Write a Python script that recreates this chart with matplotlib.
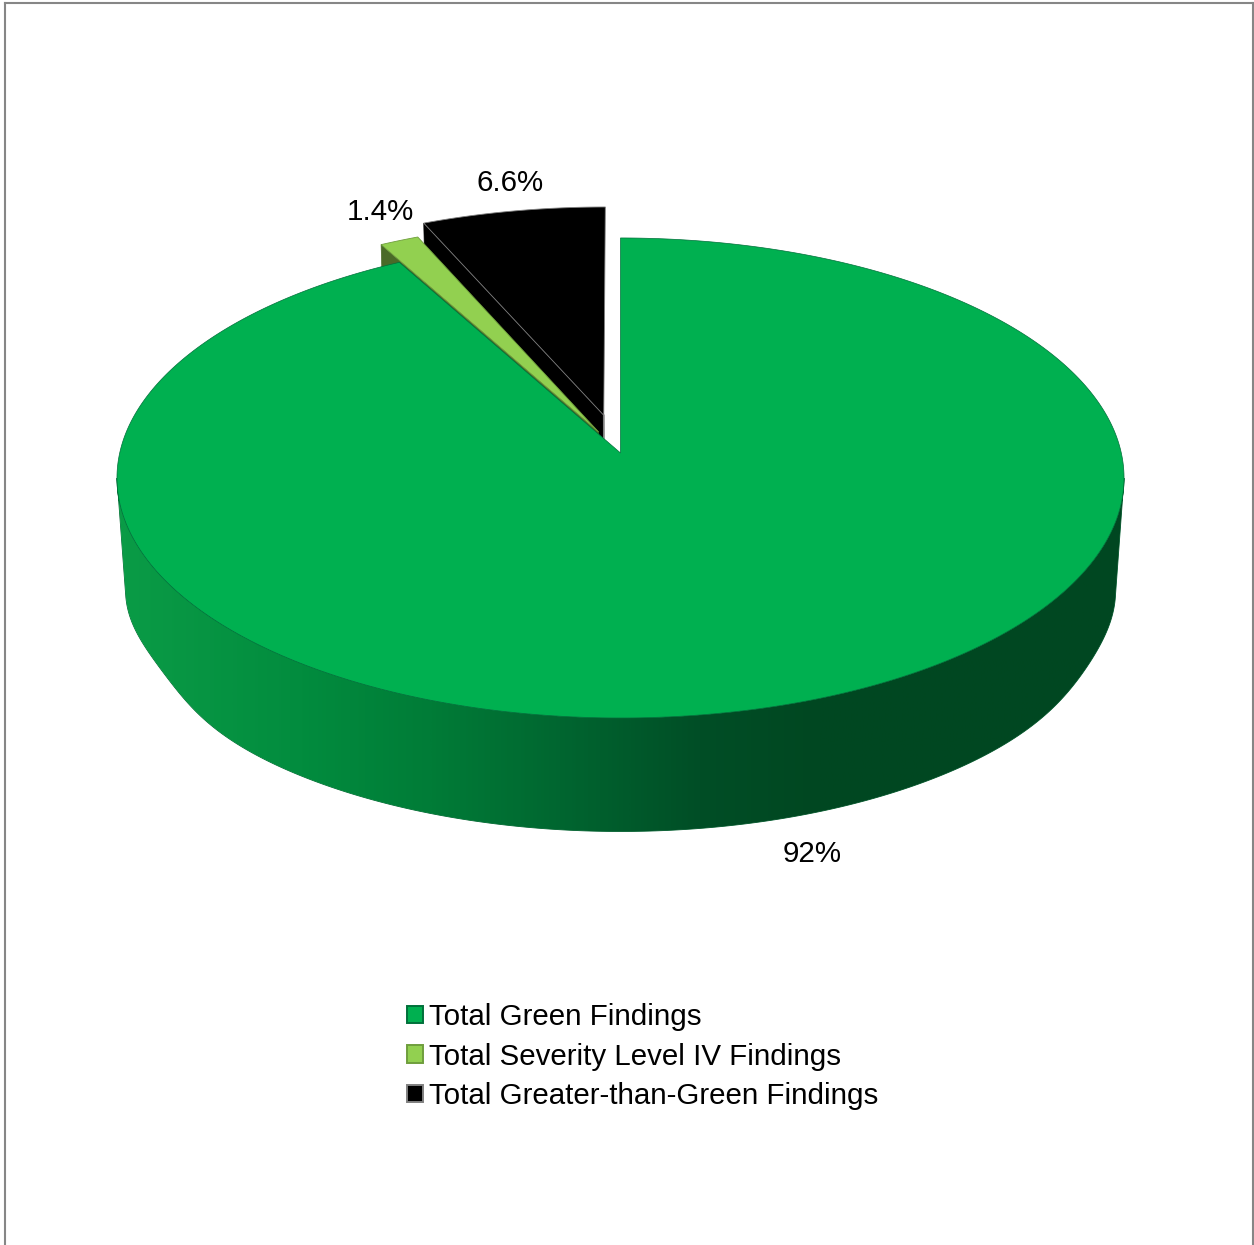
import numpy as np
import matplotlib
matplotlib.use("Agg")
import matplotlib.pyplot as plt
from matplotlib.colors import LinearSegmentedColormap
from matplotlib.patches import Polygon, Patch

# ---- data ----
categories = ["Total Green Findings", "Total Severity Level IV Findings", "Total Greater-than-Green Findings"]
values = [92.0, 1.4, 6.6]
value_labels = ["92%", "1.4%", "6.6%"]
explode = [0.0, 0.10, 0.165]

# ---- style ----
face_colors = ["#00B050", "#92D050", "#000000"]
edge_colors = ["#00703A", "#6F9E3D", "#808080"]
wall_colors = ["#00803A", "#4A6A28", "#000000"]
wall_stops = [(110, "#0A9B46"), (125, "#0A9B46"), (300, "#028C3E"), (430, "#007C37"), (560, "#006630"),
              (700, "#014E26"), (820, "#004721"), (1130, "#004821")]
frame_color = "#868686"
W, H = 1254, 1245
plt.rcParams["font.family"] = ["Liberation Sans", "DejaVu Sans"]
FS = 21.25

# perspective view of the disc
CX, CY, A, B, K = 620.5, 453.0, 500.8, 237.4, 0.104
DEPTH_CY, DEPTH_SCALE = 570.5, 0.985


def project(u, v, bottom=False):
    """u to the right, v toward the viewer, unit disc -> pixels."""
    w = 1 - K * v
    if bottom:
        return CX + DEPTH_SCALE * A * u / w, DEPTH_CY + DEPTH_SCALE * B * v / w
    return CX + A * u / w, CY + B * v / w


def rim(t, ox=0.0, oy=0.0, bottom=False, r=1.0):
    # t is the clockwise angle from 12 o'clock, radians
    return project(r * np.sin(t) + ox, -r * np.cos(t) + oy, bottom)


def rim_flattening(deg):
    # the lower rim of the reference is slightly flattened near both sides
    return 0.011 * np.exp(-((deg - 113) / 13) ** 2) + 0.02 * np.exp(-((deg - 245) / 13) ** 2)


fig = plt.figure(figsize=(W / 100, H / 100), dpi=100)
ax = fig.add_axes([5 / W, 0, (1253 - 5) / W, (H - 3) / H])
ax.set_xticks([])
ax.set_yticks([])
ax.spines["bottom"].set_visible(False)
for s in ("left", "top", "right"):
    ax.spines[s].set_color(frame_color)
    ax.spines[s].set_linewidth(1.5)

fractions = np.array(values) / sum(values)
starts = np.concatenate([[0], np.cumsum(fractions)[:-1]]) * 2 * np.pi
ends = np.cumsum(fractions) * 2 * np.pi
mids = (starts + ends) / 2

# exploded slices, painted back to front
for i in (2, 1):
    ox, oy = explode[i] * np.sin(mids[i]), -explode[i] * np.cos(mids[i])
    ts = np.linspace(starts[i], ends[i], 60)
    tx, ty = rim(ts, ox, oy)
    apex = project(ox, oy)
    apex_b = project(ox, oy, True)
    sx, sy = rim(starts[i], ox, oy)
    bx, by = rim(starts[i], ox, oy, True)
    ax.add_patch(Polygon([(sx, sy), apex, apex_b, (bx, by)], closed=True, fc=wall_colors[i],
                         ec=wall_colors[i], lw=0.5, zorder=2))
    ax.add_patch(Polygon(np.c_[np.r_[apex[0], tx], np.r_[apex[1], ty]], closed=True,
                         fc=face_colors[i], ec=edge_colors[i], lw=0.6, zorder=3))
    if i == 2:
        ax.plot([apex[0], apex_b[0]], [apex[1], apex_b[1]], color=edge_colors[i], lw=1.2, zorder=3.5)

# wall of the large slice with a horizontal shading
degs = np.linspace(96, 264, 300)
ts = np.deg2rad(degs)
tx, ty = rim(ts)
bx, by = rim(ts, bottom=True, r=1 - rim_flattening(degs))
wall = Polygon(np.r_[np.c_[tx, ty], np.c_[bx, by][::-1]], closed=True, fc="none", ec="#00602F",
               lw=0.6, zorder=4)
ax.add_patch(wall)
x0, x1 = wall_stops[0][0], wall_stops[-1][0]
cmap = LinearSegmentedColormap.from_list(
    "wall", [((p - x0) / (x1 - x0), c) for p, c in wall_stops])
im = ax.imshow(np.linspace(0, 1, 600)[None, :], cmap=cmap, extent=(x0, x1, 850, 470),
               aspect="auto", zorder=4, interpolation="bilinear")
im.set_clip_path(wall)
ax.set_xlim(5, 1253)
ax.set_ylim(H, 3)

# top of the large slice
ts = np.linspace(starts[0], ends[0], 500)
tx, ty = rim(ts)
ax.add_patch(Polygon(np.c_[np.r_[CX, tx], np.r_[CY, ty]], closed=True, fc=face_colors[0],
                     ec=edge_colors[0], lw=0.5, zorder=5))

# value labels
label_pos = [(812, 854), (380, 212), (510, 183)]
for (lx, ly), txt in zip(label_pos, value_labels):
    ax.text(lx, ly, txt, ha="center", va="center", fontsize=FS, color="black", zorder=6)

# legend
handles = [Patch(fc=f, ec=e, lw=1.4) for f, e in zip(face_colors, edge_colors)]
leg = ax.legend(handles, categories, loc="upper left", bbox_to_anchor=(407, 1003),
                bbox_transform=ax.transData, frameon=False, fontsize=FS, labelspacing=0.39,
                handlelength=0.53, handleheight=0.53, handletextpad=0.22, borderpad=0, borderaxespad=0)
leg.set_zorder(6)

fig.savefig("out.png", dpi=100, facecolor="white")
